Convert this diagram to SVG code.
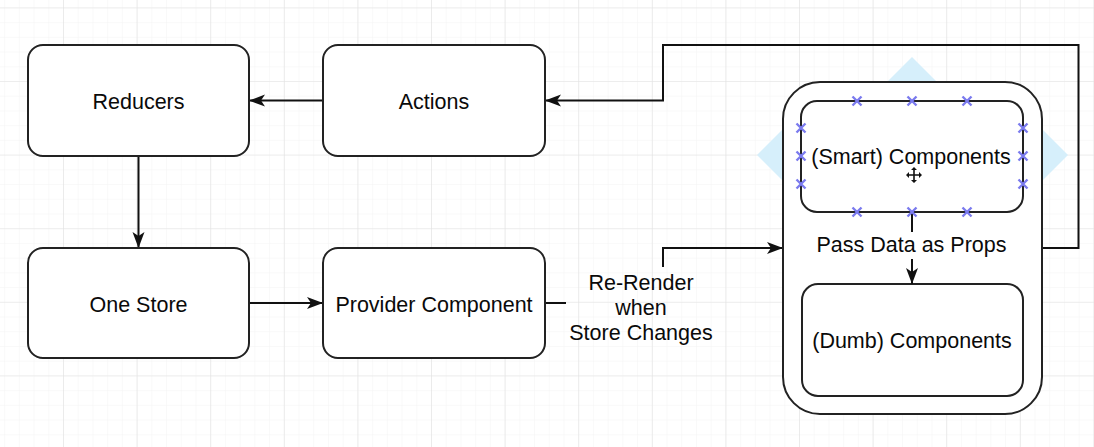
<svg xmlns="http://www.w3.org/2000/svg" width="1094" height="447" viewBox="0 0 1094 447">
<style>
.box{fill:#ffffff;stroke:#222222;stroke-width:2}
.lbl{font-family:"Liberation Sans",Arial,Helvetica,sans-serif;font-size:21.5px;fill:#0a0a0a;text-anchor:middle}
.edge{fill:none;stroke:#111111;stroke-width:2}
.handle{stroke:#7b7bee;stroke-width:2.4;fill:none}
.hover{fill:#d6effb}
</style>
<defs>
<pattern id="minor" width="14.72" height="14.72" patternUnits="userSpaceOnUse" x="-10.6" y="7.4">
<path d="M0,0 H14.72 M0,0 V14.72" stroke="#f3f3f3" stroke-width="1" fill="none"/>
</pattern>
<pattern id="major" width="73.6" height="73.6" patternUnits="userSpaceOnUse" x="-10.6" y="7.4">
<path d="M0,0 H73.6 M0,0 V73.6" stroke="#e2e2e2" stroke-width="1.2" fill="none"/>
</pattern>
<marker id="arr" markerWidth="18" markerHeight="14" refX="16" refY="7" orient="auto" markerUnits="userSpaceOnUse">
<path d="M0,1 L16,7 L0,13 L4,7 Z" fill="#111111"/>
</marker>
</defs>
<rect width="1094" height="447" fill="#ffffff"/>
<rect width="1094" height="447" fill="url(#minor)"/>
<rect width="1094" height="447" fill="url(#major)"/>

<g id="hover-arrows">
<polygon class="hover" points="912,57 950,95 874,95"/>
<polygon class="hover" points="757,155 792,120 792,190"/>
<polygon class="hover" points="1068,155 1033,120 1033,190"/>
</g>

<g id="connectors">
<path class="edge" d="M323,100.5 H249" marker-end="url(#arr)"/>
<path class="edge" d="M138.5,156 V248" marker-end="url(#arr)"/>
<path class="edge" d="M249,303 H323" marker-end="url(#arr)"/>
<path class="edge" d="M1042,248 H1078.5 V45 H663 V100.5 H545" marker-end="url(#arr)"/>
<path class="edge" d="M545,303 H566"/>
<path class="edge" d="M663,267 V248 H783" marker-end="url(#arr)"/>
</g>

<g id="node-reducers">
<rect class="box" x="28" y="45" width="221" height="111" rx="15"/>
<text class="lbl" x="138.5" y="108.5">Reducers</text>
</g>
<g id="node-actions">
<rect class="box" x="323" y="45" width="222" height="111" rx="15"/>
<text class="lbl" x="434" y="108.5">Actions</text>
</g>
<g id="node-onestore">
<rect class="box" x="28" y="248" width="221" height="110" rx="15"/>
<text class="lbl" x="138.5" y="312">One Store</text>
</g>
<g id="node-provider">
<rect class="box" x="323" y="248" width="222" height="110" rx="15"/>
<text class="lbl" x="434" y="312">Provider Component</text>
</g>
<g id="label-rerender">
<text class="lbl" x="641" y="290">Re-Render</text>
<text class="lbl" x="641" y="315">when</text>
<text class="lbl" x="641" y="340">Store Changes</text>
</g>
<g id="node-container">
<rect class="box" x="783" y="82" width="259" height="332" rx="37"/>
</g>
<g id="node-smart">
<rect class="box" x="801" y="101" width="222" height="111" rx="16"/>
<text class="lbl" x="911" y="164">(Smart) Components</text>
</g>
<g id="node-dumb">
<rect class="box" x="802" y="284" width="221" height="112" rx="16"/>
<text class="lbl" x="912" y="348">(Dumb) Components</text>
</g>
<g id="connector-props">
<path class="edge" d="M912,212 V232"/>
<path class="edge" d="M912,259 V284" marker-end="url(#arr)"/>
<text class="lbl" x="911.5" y="252">Pass Data as Props</text>
</g>

<g id="handles">
<path class="handle" d="M852.5,96.5 l9,9 m0,-9 l-9,9 M907.5,96.5 l9,9 m0,-9 l-9,9 M962.5,96.5 l9,9 m0,-9 l-9,9 M852.5,207.5 l9,9 m0,-9 l-9,9 M907.5,207.5 l9,9 m0,-9 l-9,9 M962.5,207.5 l9,9 m0,-9 l-9,9 M796.5,123.5 l9,9 m0,-9 l-9,9 M796.5,151.5 l9,9 m0,-9 l-9,9 M796.5,179.5 l9,9 m0,-9 l-9,9 M1018.5,123.5 l9,9 m0,-9 l-9,9 M1018.5,151.5 l9,9 m0,-9 l-9,9 M1018.5,179.5 l9,9 m0,-9 l-9,9"/>
</g>
<g id="cursor">
<path d="M914,169 V181 M908,175 H920" stroke="#111" stroke-width="1.6" fill="none"/>
<path d="M914,167 l-3,3 h6 Z M914,183 l-3,-3 h6 Z M906,175 l3,-3 v6 Z M922,175 l-3,-3 v6 Z" fill="#111"/>
</g>
</svg>
